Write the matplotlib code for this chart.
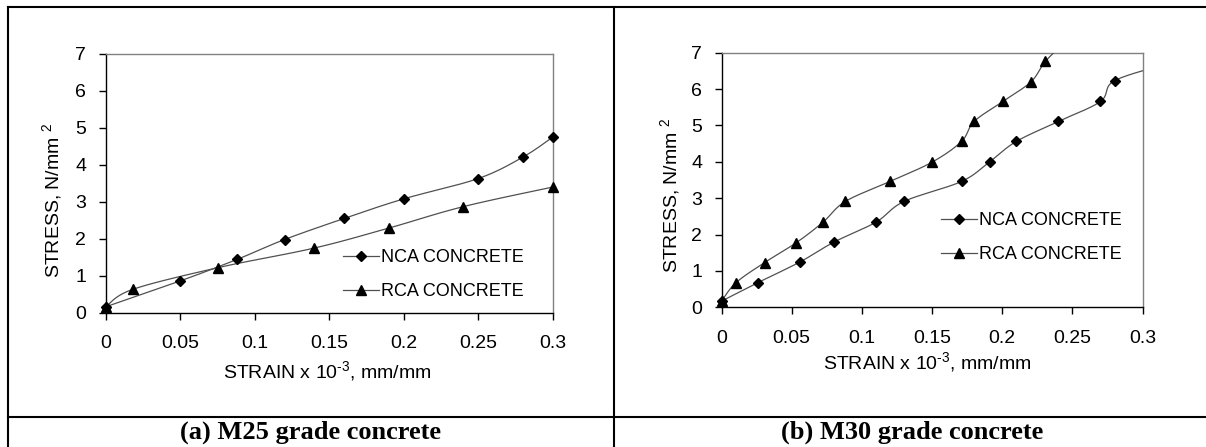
import numpy as np
import matplotlib
matplotlib.use("Agg")
import matplotlib.pyplot as plt
from matplotlib.lines import Line2D

plt.rcParams['font.family'] = ['Liberation Sans', 'DejaVu Sans']
plt.rcParams['mathtext.fontset'] = 'custom'
plt.rcParams['mathtext.rm'] = 'Liberation Sans'
plt.rcParams['mathtext.default'] = 'regular'

# ---------------- data ----------------
a_nca_x = [0.0, 0.05, 0.088, 0.12, 0.16, 0.20, 0.25, 0.28, 0.30]
a_nca_y = [0.16, 0.86, 1.44, 1.98, 2.55, 3.08, 3.63, 4.21, 4.75]
a_rca_x = [0.0, 0.018, 0.0755, 0.14, 0.19, 0.24, 0.30]
a_rca_y = [0.16, 0.63, 1.22, 1.75, 2.29, 2.87, 3.40]

b_nca_x = [0.0, 0.026, 0.0556, 0.080, 0.110, 0.130, 0.171, 0.191, 0.210, 0.240, 0.270, 0.280, 0.320]
b_nca_y = [0.17, 0.68, 1.24, 1.79, 2.34, 2.91, 3.46, 4.00, 4.56, 5.11, 5.66, 6.23, 6.72]
b_rca_x = [0.0, 0.0104, 0.0307, 0.0534, 0.0723, 0.0882, 0.120, 0.150, 0.171, 0.180, 0.2005, 0.2205, 0.2307, 0.245]
b_rca_y = [0.17, 0.68, 1.23, 1.78, 2.34, 2.91, 3.46, 3.99, 4.56, 5.11, 5.66, 6.20, 6.76, 7.30]

x_ticks = [0, 0.05, 0.1, 0.15, 0.2, 0.25, 0.3]
x_tick_labels = ['0', '0.05', '0.1', '0.15', '0.2', '0.25', '0.3']
y_ticks = [0, 1, 2, 3, 4, 5, 6, 7]
series_labels = ['NCA CONCRETE', 'RCA CONCRETE']
captions = ['(a) M25 grade concrete', '(b) M30 grade concrete']
xlabel = r'STRAIN x 10$^{\text{-3}}$, mm/mm'
ylabel = r'STRESS, N/mm $^{2}$'

W, H = 1206, 447
fig = plt.figure(figsize=(W / 100, H / 100), dpi=100)
fig.patch.set_facecolor('white')


def smooth(xs, ys, n=20):
    """Catmull-Rom smoothing through the data points (like Excel smoothed lines)."""
    P = np.column_stack([xs, ys]).astype(float)
    P = np.vstack([P[0], P, P[-1]])
    out = []
    t = np.linspace(0, 1, n)
    for i in range(1, len(P) - 2):
        p0, p1, p2, p3 = P[i - 1], P[i], P[i + 1], P[i + 2]
        seg = 0.5 * ((2 * p1)[None, :] + (-p0 + p2)[None, :] * t[:, None]
                     + (2 * p0 - 5 * p1 + 4 * p2 - p3)[None, :] * t[:, None] ** 2
                     + (-p0 + 3 * p1 - 3 * p2 + p3)[None, :] * t[:, None] ** 3)
        out.append(seg if i == 1 else seg[1:])
    S = np.vstack(out)
    return S[:, 0], S[:, 1]


def fx(px):
    return px / W


def fy(py):
    return 1 - py / H


def panel(rect, nca, rca, legend_xy, ylab_xy, xlab_xy):
    ax = fig.add_axes(rect)
    ax.set_xlim(0, 0.3)
    ax.set_ylim(0, 7)
    for (xs, ys, mk, ms) in [(nca[0], nca[1], 'D', 5.0), (rca[0], rca[1], '^', 7.0)]:
        sx, sy = smooth(xs, ys)
        ax.plot(sx, sy, color='#505050', lw=0.9, clip_on=True, zorder=3)
        xs_a = np.array(xs)
        ys_a = np.array(ys)
        m = (xs_a <= 0.3 + 1e-9) & (ys_a <= 7 + 1e-9)
        ax.plot(xs_a[m], ys_a[m], ls='none', marker=mk, ms=ms, color='black',
                clip_on=False, zorder=4)
    ax.set_xticks(x_ticks)
    ax.set_xticklabels(x_tick_labels)
    ax.set_yticks(y_ticks)
    ax.tick_params(axis='both', direction='out', length=5, width=1.0,
                   labelsize=14, colors='black')
    ax.tick_params(axis='x', pad=11)
    ax.tick_params(axis='y', pad=9)
    for s in ['left', 'bottom']:
        ax.spines[s].set_color('black')
        ax.spines[s].set_linewidth(1.0)
    for s in ['top', 'right']:
        ax.spines[s].set_color('#808080')
        ax.spines[s].set_linewidth(1.0)
    handles = [Line2D([], [], color='#505050', lw=0.9, marker='D', ms=5.0,
                      mfc='black', mec='black'),
               Line2D([], [], color='#505050', lw=0.9, marker='^', ms=7.0,
                      mfc='black', mec='black')]
    ax.legend(handles, series_labels, loc='upper left', bbox_to_anchor=legend_xy,
              bbox_transform=fig.transFigure, frameon=False, fontsize=13,
              handlelength=2.0, handletextpad=0.1, labelspacing=0.95,
              borderpad=0, borderaxespad=0, markerscale=1.0, numpoints=1)
    fig.text(ylab_xy[0], ylab_xy[1], ylabel, rotation=90, ha='center', va='center',
             fontsize=14)
    fig.text(xlab_xy[0], xlab_xy[1], xlabel, ha='center', va='center', fontsize=14)
    return ax


# left panel
panel([fx(105.8), fy(312.7), fx(552.7 - 105.8), (312.7 - 54) / H],
      (a_nca_x, a_nca_y), (a_rca_x, a_rca_y),
      (fx(343), fy(249)), (fx(52), fy(200)), (fx(327), fy(371)))
# right panel
panel([fx(721.5), fy(307.3), fx(1142.6 - 721.5), (307.3 - 52.7) / H],
      (b_nca_x, b_nca_y), (b_rca_x, b_rca_y),
      (fx(941), fy(212)), (fx(670), fy(195)), (fx(927), fy(362)))

# table borders
lw = 1.5
fig.add_artist(Line2D([fx(7.5), fx(7.5)], [fy(6.5), 0], color='black', lw=lw))
fig.add_artist(Line2D([fx(7.5), 1], [fy(6.5), fy(6.5)], color='black', lw=lw))
fig.add_artist(Line2D([fx(613.7), fx(613.7)], [fy(6.5), 0], color='black', lw=lw))
fig.add_artist(Line2D([fx(7.5), 1], [fy(416.7), fy(416.7)], color='black', lw=lw))

for cx, txt in [((7.5 + 613.7) / 2, captions[0]), ((613.7 + 1206) / 2 + 2, captions[1])]:
    fig.text(fx(cx), fy(432), txt, ha='center', va='center', fontsize=19,
             fontweight='bold', family=['Liberation Serif', 'DejaVu Serif'])

fig.savefig('out.png', dpi=100, facecolor='white')
